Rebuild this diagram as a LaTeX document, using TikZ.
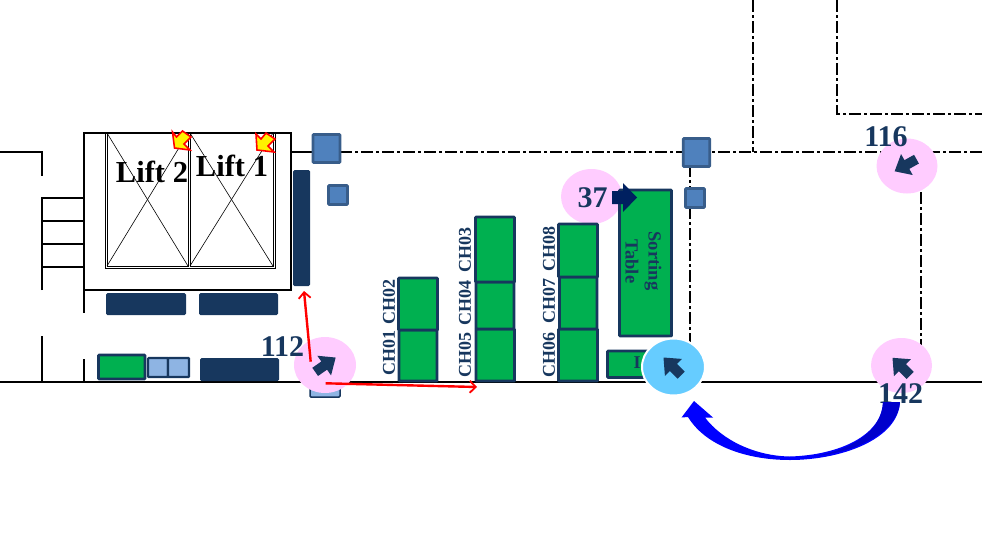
\documentclass[tikz,border=0pt]{standalone}
\usepackage{fontspec}
\setmainfont{Liberation Serif}
\usetikzlibrary{arrows.meta}
\definecolor{navy}{HTML}{17375E}
\definecolor{navyb}{HTML}{002060}
\definecolor{grn}{HTML}{00B050}
\definecolor{sq}{HTML}{4F81BD}
\definecolor{sqb}{HTML}{385D8A}
\definecolor{lb}{HTML}{8EB4E3}
\definecolor{pink}{HTML}{FFCCFF}
\definecolor{sky}{HTML}{66CCFF}
\definecolor{blu}{HTML}{0000FF}
\tikzset{
  x=1pt,y=-1pt,
  wall/.style={draw=black,line width=2pt},
  dd/.style={draw=black,line width=2pt,dash pattern=on 12pt off 3pt on 3pt off 3pt},
  thin line/.style={draw=black,line width=0.6pt},
  chair/.style={draw=navy,fill=grn,line width=2.6pt,rounded corners=0.6pt},
  bar/.style={fill=navy,rounded corners=1.5pt},
  sqbox/.style={draw=sqb,fill=sq,line width=2.6pt,rounded corners=0.8pt},
  lbbox/.style={draw=navy,fill=lb,line width=2.2pt,rounded corners=0.8pt},
  spot/.style={fill=pink},
  num/.style={text=navy,font=\bfseries\fontsize{30}{30}\selectfont,inner sep=0pt},
  ch/.style={text=navy,font=\bfseries\fontsize{18}{18}\selectfont,inner sep=0pt,rotate=90},
  tbl/.style={text=navy,font=\bfseries\fontsize{18.5}{18.5}\selectfont,inner sep=0pt,rotate=-90},
  lift/.style={text=black,font=\bfseries\fontsize{30.5}{30.5}\selectfont,inner sep=0pt},
  redarr/.style={draw=red,line width=2.4pt,-{Straight Barb[length=6pt,width=12pt,line width=1.8pt]}},
  burst/.style={draw=red,fill=yellow,line width=1.6pt,line join=miter},
}
\newcommand{\blockarrow}[3]{%
  \fill[navy,shift={(#1,#2)},rotate=#3,yscale=-1] (13,0) -- (-1,-12) -- (-1,-5) -- (-12,-5) -- (-12,5) -- (-1,5) -- (-1,12) -- cycle;}
\begin{document}
\begin{tikzpicture}
\useasboundingbox (0,0) rectangle (982,549);
% walls
\draw[wall] (0,152) -- (42,152) -- (42,176);
\draw[wall] (42,290) -- (42,198) -- (84,198);
\draw[wall] (42,220.5) -- (84,220.5);
\draw[wall] (42,243.5) -- (84,243.5);
\draw[wall] (42,266.5) -- (84,266.5);
\draw[wall] (84,290) -- (84,313);
\draw[wall] (42,336) -- (42,382);
\draw[wall] (84,359) -- (84,382);
\draw[wall] (0,382) -- (982,382);
\draw[wall] (291,152) -- (315,152);
\draw[dd] (340,152) -- (982,152);
\draw[dd] (753,0) -- (753,152);
\draw[dd] (837,0) -- (837,114) -- (982,114);
\draw[dd] (690,165) -- (690,345);
\draw[dd] (921,192) -- (921,345);
% lift block
\draw[wall] (84,133) rectangle (291,290);
\draw[thin line] (105,133) -- (105,268) -- (275,268) -- (275,133);
\draw[thin line] (107,133) -- (107,266) -- (188,266) -- (188,133);
\draw[thin line] (190,133) -- (190,266) -- (273,266) -- (273,133);
\draw[thin line] (107,133) -- (188,266);
\draw[thin line] (188,133) -- (107,266);
\draw[thin line] (190,133) -- (273,266);
\draw[thin line] (273,133) -- (190,266);
\node[lift] (lifttwo) at (152,172) {Lift 2};
\node[lift] (liftone) at (232,166) {Lift 1};
\draw[burst] (172.5,132) -- (174.5,148) -- (190,150) -- (184,144) -- (191,137) -- (182.5,131) -- (176.5,137) -- cycle;
\draw[burst] (256,134) -- (257,150) -- (274,152) -- (268,146) -- (275,139) -- (266,133) -- (261,139) -- cycle;
% bars
\fill[bar] (293,170) rectangle (310,286);
\fill[bar] (106,293) rectangle (186,315);
\fill[bar] (199,293) rectangle (278,315);
\fill[bar] (200,358) rectangle (279,381);
\node[chair,minimum width=0pt,inner sep=0pt,fit/.style={}] (g0) at (121.5,367) {};
\draw[chair] (98.5,355) rectangle (145,379);
\draw[lbbox] (148,358) rectangle (168,377);
\draw[lbbox] (168,358) rectangle (189,377);
% squares
\node[sqbox,minimum width=27pt,minimum height=28pt,inner sep=0pt] (s1) at (326.5,148.5) {};
\node[sqbox,minimum width=26.5pt,minimum height=28pt,inner sep=0pt] (s2) at (696.5,152.5) {};
\node[sqbox,minimum width=19pt,minimum height=19pt,inner sep=0pt] (s3) at (338,195) {};
\node[sqbox,minimum width=19pt,minimum height=19pt,inner sep=0pt] (s4) at (695,198) {};
% 112
\draw[draw=navy,line width=1.5pt,fill=lb,rounded corners=1pt] (310,375) rectangle (340,397);
\fill[spot] (325,365) ellipse (31 and 28);
\fill[spot] (591.5,196.5) ellipse (30.5 and 27.5);
% chairs
\draw[chair] (399,330) rectangle (437,381);
\draw[chair] (398.5,278) rectangle (437.5,330);
\draw[chair] (476,329) rectangle (514.5,381);
\draw[chair] (476,282) rectangle (514,329);
\draw[chair] (475.5,217) rectangle (514.5,282);
\draw[chair] (558.5,329) rectangle (597.5,381);
\draw[chair] (559.5,277) rectangle (597,329);
\draw[chair] (558.5,224) rectangle (597.5,277);
\draw[chair] (619.5,190) rectangle (671.5,336);
\draw[chair] (607.5,351) rectangle (652,377.5);
\node[ch] (c1) at (389,353) {CH01};
\node[ch] (c2) at (389,301.5) {CH02};
\node[ch] (c5) at (465,355) {CH05};
\node[ch] (c4) at (465,302.5) {CH04};
\node[ch] (c3) at (465,249.5) {CH03};
\node[ch] (c6) at (549,355) {CH06};
\node[ch] (c7) at (549,301) {CH07};
\node[ch] (c8) at (549,249) {CH08};
\node[tbl] (t1) at (653,261) {Sorting};
\node[tbl] (t2) at (632,261.5) {Table};
\node[text=navy,font=\bfseries\fontsize{18}{18}\selectfont,inner sep=0pt] (t3) at (637,363) {I};
% spots
\fill[spot] (907,166) ellipse (30.5 and 27.5);
\fill[spot] (901.5,365.5) ellipse (30.5 and 27.5);
\draw[white,line width=2pt,fill=sky] (673.5,367) ellipse (31.5 and 28.5);
\blockarrow{325}{365}{35}
\blockarrow{906}{165}{209}
\blockarrow{901.7}{367}{135}
\blockarrow{672.7}{366.7}{135}
\fill[navyb] (612,191) -- (623,191) -- (623,183) -- (637,197.5) -- (623,212) -- (623,204) -- (612,204) -- cycle;
% numbers
\node[num] (n112) at (282.5,347) {112};
\node[num] (n116) at (886,137) {116};
\node[num] (n142) at (900.5,394) {142};
\node[num] (n37) at (592.5,198) {37};
% red arrows
\coordinate (ra) at (310.7,361.7);
\coordinate (rb) at (304,291);
\coordinate (rc) at (325.7,383.3);
\coordinate (rd) at (477,387);
\draw[redarr] (ra) -- (rb);
\draw[redarr] (rc) -- (rd);
% blue curved arrow
\fill[blu] (900,402) .. controls (898,440) and (840,460) .. (790,460) .. controls (745,460) and (705,445) .. (688,417) -- (681.5,417.5) -- (694,401) -- (713,417.5) -- (705,417.5) .. controls (722,440) and (755,456) .. (790,456.5) .. controls (840,455) and (882,435) .. (883,402) -- cycle;
\fill[blu!80!black] (900,402) .. controls (898,430) and (860,452) .. (815,456) .. controls (850,450) and (882,432) .. (883,402) -- cycle;
\end{tikzpicture}
\end{document}
